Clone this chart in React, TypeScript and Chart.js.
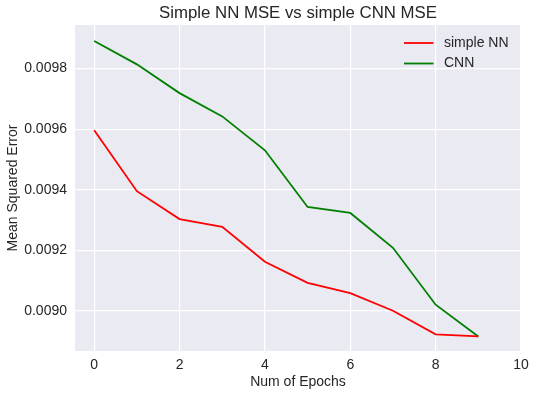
import React, { useEffect, useRef } from "react";
import { Chart, registerables } from "chart.js";

Chart.register(...registerables);

const epochs = [0, 1, 2, 3, 4, 5, 6, 7, 8, 9];
const nnMse = [0.009596, 0.009395, 0.009303, 0.009277, 0.009162, 0.009092, 0.009058, 0.0090, 0.008922, 0.008915];
const cnnMse = [0.009891, 0.009814, 0.009719, 0.009642, 0.00953, 0.009343, 0.009323, 0.009208, 0.00902, 0.008915];
const xTicks = [0, 2, 4, 6, 8, 10];
const yTicks = [0.009, 0.0092, 0.0094, 0.0096, 0.0098];

const FONT = "'Liberation Sans', Arial, sans-serif";
const TEXT = "#262626";

const decorPlugin = {
  id: "decor",
  beforeDraw(chart: any) {
    const { ctx, chartArea } = chart;
    ctx.save();
    ctx.fillStyle = "#EAEAF2";
    ctx.fillRect(chartArea.left, chartArea.top, chartArea.right - chartArea.left, chartArea.bottom - chartArea.top);
    ctx.restore();
  },
  afterDraw(chart: any) {
    const { ctx, chartArea } = chart;
    ctx.save();
    ctx.fillStyle = TEXT;
    ctx.textAlign = "center";
    ctx.textBaseline = "middle";
    ctx.font = `16.8px ${FONT}`;
    ctx.fillText("Simple NN MSE vs simple CNN MSE", (chartArea.left + chartArea.right) / 2, 13.5);
    ctx.font = `14px ${FONT}`;
    ctx.fillText("Num of Epochs", (chartArea.left + chartArea.right) / 2, 382.5);
    ctx.save();
    ctx.translate(13, (chartArea.top + chartArea.bottom) / 2);
    ctx.rotate(-Math.PI / 2);
    ctx.fillText("Mean Squared Error", 0, 0);
    ctx.restore();
    // legend
    const items = [
      { label: "simple NN", color: "#FF0000", y: 43 },
      { label: "CNN", color: "#008000", y: 63.5 },
    ];
    ctx.font = `14px ${FONT}`;
    ctx.textAlign = "left";
    for (const it of items) {
      ctx.strokeStyle = it.color;
      ctx.lineWidth = 1.8;
      ctx.beginPath();
      ctx.moveTo(404, it.y);
      ctx.lineTo(433.5, it.y);
      ctx.stroke();
      ctx.fillStyle = TEXT;
      ctx.fillText(it.label, 444, it.y);
    }
    ctx.restore();
  },
};

export default function App() {
  const ref = useRef<HTMLCanvasElement>(null);
  useEffect(() => {
    document.body.style.margin = "0";
    const chart = new Chart(ref.current!, {
      type: "line",
      data: {
        datasets: [
          {
            label: "simple NN",
            data: epochs.map((e, i) => ({ x: e, y: nnMse[i] })),
            borderColor: "#FF0000",
            borderWidth: 1.8,
            pointRadius: 0,
            tension: 0,
          },
          {
            label: "CNN",
            data: epochs.map((e, i) => ({ x: e, y: cnnMse[i] })),
            borderColor: "#008000",
            borderWidth: 1.8,
            pointRadius: 0,
            tension: 0,
          },
        ],
      },
      options: {
        responsive: false,
        animation: false,
        layout: { padding: { top: 25, right: 15, left: 0, bottom: 0 } },
        plugins: { legend: { display: false }, title: { display: false }, tooltip: { enabled: false } },
        scales: {
          x: {
            type: "linear",
            min: -0.45,
            max: 10,
            border: { display: false },
            grid: { color: "#FFFFFF", lineWidth: 1.2, drawTicks: false },
            afterBuildTicks: (axis: any) => {
              axis.ticks = xTicks.map((v) => ({ value: v }));
            },
            afterFit: (scale: any) => {
              scale.height = 46;
            },
            ticks: {
              padding: 6,
              color: TEXT,
              font: { family: FONT, size: 14 },
              maxRotation: 0,
              callback: (v: any) => String(v),
            },
          },
          y: {
            type: "linear",
            min: 0.008867,
            max: 0.009944,
            border: { display: false },
            grid: { color: "#FFFFFF", lineWidth: 1.2, drawTicks: false },
            afterBuildTicks: (axis: any) => {
              axis.ticks = yTicks.map((v) => ({ value: v }));
            },
            afterFit: (scale: any) => {
              scale.width = 75;
            },
            ticks: {
              padding: 8,
              color: TEXT,
              font: { family: FONT, size: 14 },
              callback: (v: any) => Number(v).toFixed(4),
            },
          },
        },
      },
      plugins: [decorPlugin],
    });
    return () => chart.destroy();
  }, []);
  return (
    <div style={{ width: 536, height: 397 }}>
      <canvas ref={ref} width={536} height={397} style={{ display: "block" }} />
    </div>
  );
}
